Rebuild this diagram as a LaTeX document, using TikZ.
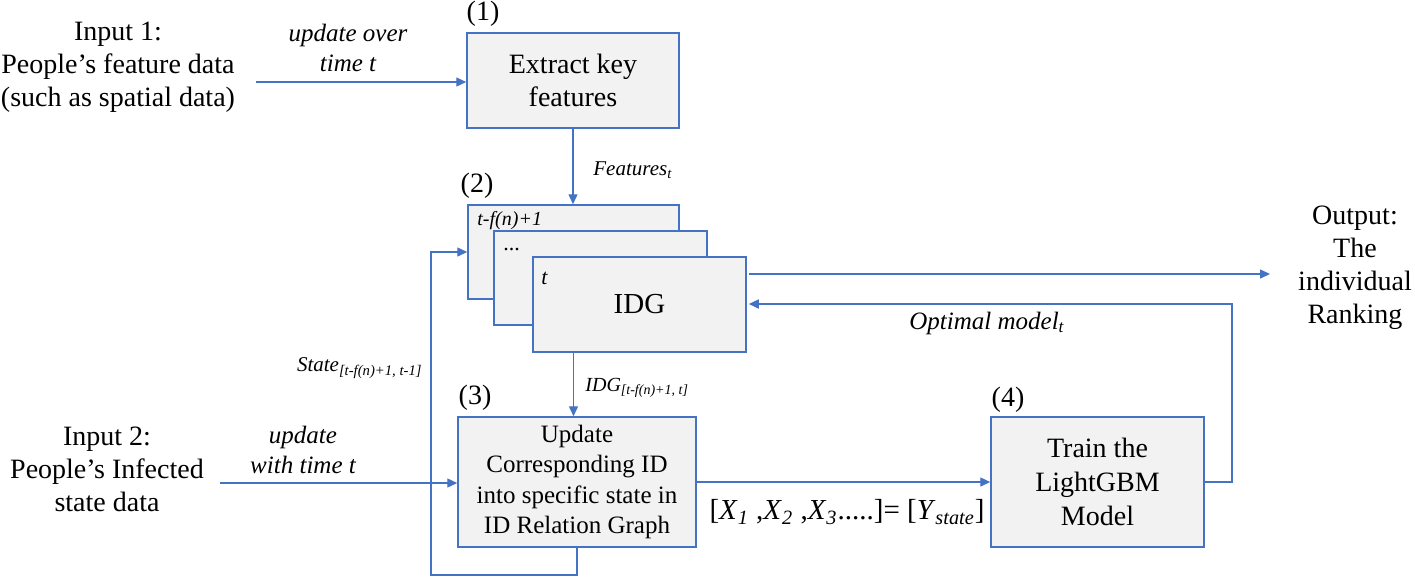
\documentclass[tikz,border=0pt]{standalone}
\usepackage{fontspec}
\setmainfont{Liberation Serif}
\usetikzlibrary{arrows.meta}
\definecolor{lineblue}{HTML}{4472C4}
\definecolor{boxfill}{HTML}{F2F2F2}
\begin{document}
\begin{tikzpicture}[x=0.5pt,y=-0.5pt,
  box/.style={draw=lineblue, fill=boxfill, line width=0.75pt, rectangle, inner sep=0pt, align=center},
  arr/.style={draw=lineblue, line width=0.7pt, -{Triangle[length=5pt,width=4.5pt]}},
  ln/.style={draw=lineblue, line width=0.7pt},
  txt/.style={inner sep=0pt, align=center, font=\rmfamily\fontsize{14}{16.5}\selectfont},
  lab/.style={inner sep=0pt, align=center, font=\rmfamily\fontsize{12.5}{15}\selectfont\itshape},
  small/.style={inner sep=0pt, font=\rmfamily\fontsize{10.5}{12}\selectfont\itshape},
]
\useasboundingbox (0,0) rectangle (1415,580);

% inputs / output texts
\node[txt] (in1) at (118,67) {Input 1:\\People’s feature data\\(such as spatial data)};
\node[txt] (in2) at (107,469) {Input 2:\\People’s Infected\\state data};
\node[txt] (out) at (1355,268) {Output:\\The\\individual\\Ranking};

% boxes
\node[box, minimum width=106pt, minimum height=47.5pt, font=\rmfamily\fontsize{14}{16.5}\selectfont] (box1) at (573,80.5) {Extract key\\features};
\node[box, minimum width=105.5pt, minimum height=47pt] (boxA) at (573.5,252) {};
\node[box, minimum width=106.5pt, minimum height=47pt] (boxB) at (600.5,278) {};
\node[box, minimum width=106.5pt, minimum height=47.5pt, font=\rmfamily\fontsize{14.5}{17}\selectfont] (boxC) at (639.5,304.5) {\raisebox{-3pt}{IDG}};
\node[box, minimum width=119pt, minimum height=65pt, font=\rmfamily\fontsize{12.5}{15.3}\selectfont] (box3) at (577,482) {Update\\Corresponding ID\\into specific state in\\ID Relation Graph};
\node[box, minimum width=106.5pt, minimum height=65pt, font=\rmfamily\fontsize{14}{17}\selectfont] (box4) at (1097.5,482) {Train the\\LightGBM\\Model};

% stack labels
\node[inner sep=0pt, anchor=west, font=\rmfamily\fontsize{10}{12}\selectfont\itshape] (lA) at (477,221) {t-f(n)+1};
\node[inner sep=0pt, anchor=west, font=\rmfamily\fontsize{11}{13}\selectfont] (lB) at (503,250) {...};
\node[inner sep=0pt, anchor=west, font=\rmfamily\fontsize{11}{13}\selectfont\itshape] (lC) at (541,278) {t};

% step numbers
\node[txt] (n1) at (483,14) {(1)};
\node[txt] (n2) at (477,186) {(2)};
\node[txt] (n3) at (475,398) {(3)};
\node[txt] (n4) at (1008,400) {(4)};

% coordinates
\coordinate (s1) at (256,82);
\coordinate (s2) at (220,483);
\coordinate (lb) at (431,575);
\coordinate (fb) at (1232,304);
\coordinate (oe) at (1270,274);
\coordinate (ob) at (749,274);

% connectors
\draw[arr] (s1) -- (s1 -| box1.west);
\draw[arr] (box1.south) -- (box1.south |- boxA.north);
\draw[arr] (boxA.south |- boxC.south) -- (boxA.south |- box3.north);
\draw[arr] (s2) -- (s2 -| box3.west);
\draw[arr] (box3.south) |- (lb) |- (boxA.west);
\draw[arr] (box3.east) -- (box4.west);
\draw[arr] (box4.east) -| (fb) -- ([xshift=1pt]fb -| boxC.east);
\draw[arr] (ob) -- (oe);

% connector labels
\node[lab] (l1) at (348,48) {update over\\time t};
\node[lab] (l2) at (303,450) {update\\with time t};
\node[small, anchor=west] (lf) at (593,170) {Features\textsubscript{t}};
\node[inner sep=0pt, anchor=west, font=\rmfamily\fontsize{10}{12}\selectfont\itshape] (li) at (585,388) {IDG\textsubscript{[t-f(n)+1, t]}};
\node[inner sep=0pt, anchor=east, font=\rmfamily\fontsize{10.5}{12}\selectfont\itshape] (ls) at (423,368) {State\textsubscript{[t-f(n)+1, t-1]}};
\node[lab] (lo) at (987,323) {Optimal model\textsubscript{t}};
\node[inner sep=0pt, font=\rmfamily\fontsize{14.5}{17}\selectfont] (lx) at (847,512) {[\textit{X}\textsubscript{\textit{1}} ,\textit{X}\textsubscript{\textit{2}} ,\textit{X}\textsubscript{\textit{3}}.....]= [\textit{Y}\textsubscript{\textit{state}}]};
\end{tikzpicture}
\end{document}
